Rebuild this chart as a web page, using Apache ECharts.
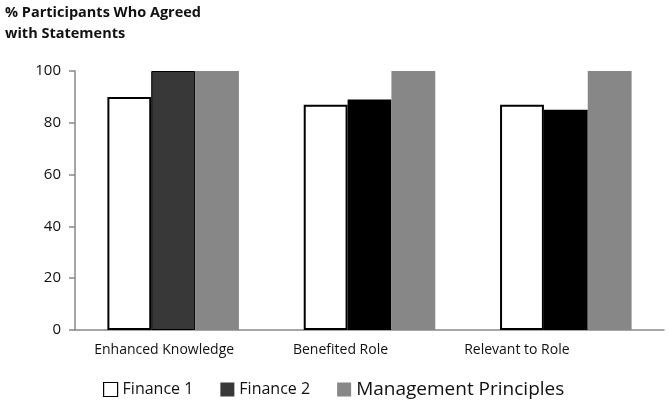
<!DOCTYPE html>
<html><head><meta charset="utf-8">
<script src="https://cdn.jsdelivr.net/npm/echarts@6/dist/echarts.min.js"></script>
<style>html,body{margin:0;padding:0;background:#fff}#c{width:669px;height:406px}</style>
</head><body><div id="c"></div>
<script>
const categories = ['Enhanced Knowledge', 'Benefited Role', 'Relevant to Role'];
const finance1 = [90, 87, 87];
const finance2 = [100, 89, 85];
const management = [100, 100, 100];
const yTicks = [0, 20, 40, 60, 80, 100];

const FONT = 'Open Sans';
const chart = echarts.init(document.getElementById('c'));
chart.setOption({
  animation: false,
  textStyle: { fontFamily: FONT },
  title: {
    text: '% Participants Who Agreed\nwith Statements',
    left: 5, top: 2, padding: 0,
    textStyle: { fontFamily: FONT, fontWeight: 'bold', fontSize: 14.5, lineHeight: 21, color: '#111' }
  },
  grid: [
    { left: 75, right: 5, top: 71, bottom: 76 },
    { left: 76, width: 529, top: 71, bottom: 76 }
  ],
  legend: {
    left: 98, top: 375,
    itemWidth: 14, itemHeight: 14, itemGap: 27,
    icon: 'rect',
    textStyle: { fontFamily: FONT, fontSize: 16, color: '#111', rich: { big: { fontSize: 19, fontFamily: FONT, color: '#111' } } },
    formatter: n => n === 'Management Principles' ? '{big|' + n + '}' : n,
    data: [
      { name: 'Finance 1', itemStyle: { color: '#fff', borderColor: '#000', borderWidth: 1.2 } },
      { name: 'Finance 2', itemStyle: { color: '#383838', borderWidth: 0 } },
      { name: 'Management Principles', itemStyle: { color: '#878787', borderWidth: 0 } }
    ]
  },
  xAxis: [
    {
      type: 'category', data: categories, gridIndex: 0,
      axisLine: { lineStyle: { color: '#888', width: 1.5 } },
      axisTick: { show: false },
      axisLabel: { show: false }
    },
    {
      type: 'category', data: categories, gridIndex: 1,
      axisLine: { show: false },
      axisTick: { show: false },
      axisLabel: { fontFamily: FONT, fontSize: 14, color: '#111', margin: 13, interval: 0 }
    }
  ],
  yAxis: [
    {
      type: 'value', min: yTicks[0], max: yTicks[yTicks.length - 1], interval: 20, gridIndex: 0,
      splitLine: { show: false },
      axisLine: { show: true, lineStyle: { color: '#888', width: 1.5 } },
      axisTick: { show: true, length: 6, lineStyle: { color: '#888', width: 1.5 } },
      axisLabel: { fontFamily: FONT, fontSize: 15, color: '#111', margin: 14 }
    },
    {
      type: 'value', min: 0, max: 100, gridIndex: 1, show: false, splitLine: { show: false }
    }
  ],
  series: [
    { name: 'Finance 1', type: 'bar', data: finance1, barGap: '0%', barCategoryGap: '33%',
      itemStyle: { color: '#fff', borderColor: '#000', borderWidth: 2 } },
    { name: 'Finance 2', type: 'bar', barGap: '0%',
      data: finance2.map((v, i) => i === 0 ? { value: v, itemStyle: { color: '#383838', borderColor: '#000', borderWidth: 1 } } : { value: v, itemStyle: { color: '#000' } }),
      itemStyle: { color: '#383838' } },
    { name: 'Management Principles', type: 'bar', barGap: '0%', data: management,
      itemStyle: { color: '#878787' } }
  ]
});
</script></body></html>
